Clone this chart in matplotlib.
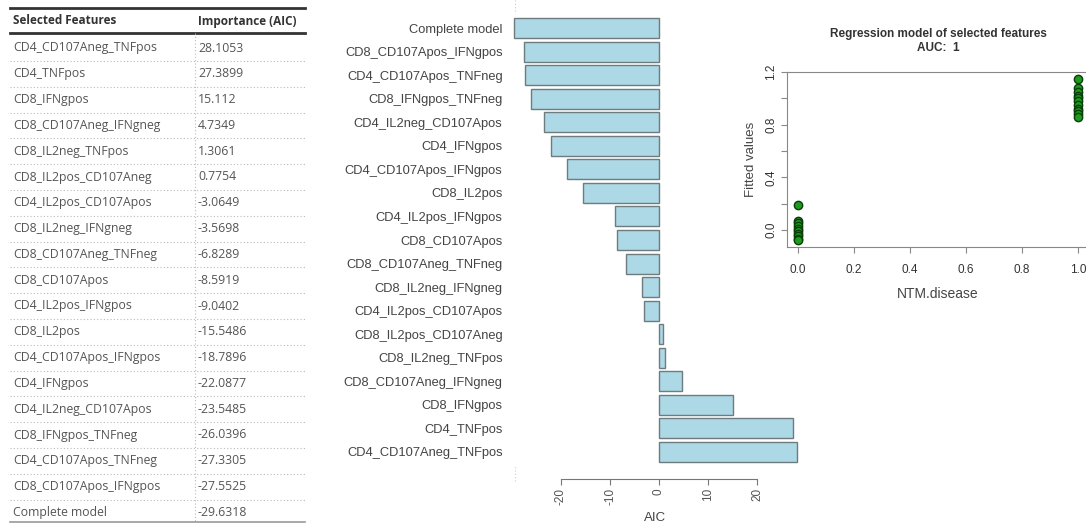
import numpy as np
import matplotlib
matplotlib.use("Agg")
import matplotlib.pyplot as plt

plt.rcParams['font.family'] = ['Liberation Sans', 'DejaVu Sans']

# table / bar data (table order, largest first)
features = ["CD4_CD107Aneg_TNFpos", "CD4_TNFpos", "CD8_IFNgpos",
            "CD8_CD107Aneg_IFNgneg", "CD8_IL2neg_TNFpos", "CD8_IL2pos_CD107Aneg",
            "CD4_IL2pos_CD107Apos", "CD8_IL2neg_IFNgneg", "CD8_CD107Aneg_TNFneg",
            "CD8_CD107Apos", "CD4_IL2pos_IFNgpos", "CD8_IL2pos",
            "CD4_CD107Apos_IFNgpos", "CD4_IFNgpos", "CD4_IL2neg_CD107Apos",
            "CD8_IFNgpos_TNFneg", "CD4_CD107Apos_TNFneg", "CD8_CD107Apos_IFNgpos",
            "Complete model"]
importance = ["28.1053", "27.3899", "15.112", "4.7349", "1.3061", "0.7754",
              "-3.0649", "-3.5698", "-6.8289", "-8.5919", "-9.0402", "-15.5486",
              "-18.7896", "-22.0877", "-23.5485", "-26.0396", "-27.3305",
              "-27.5525", "-29.6318"]
aic = [float(v) for v in importance]
aic_ticks = [-20, -10, 0, 10, 20]

# fitted values of the regression panel
fit_neg = [0.19, 0.07, 0.05, 0.03, 0.01, -0.01, -0.03, -0.05, -0.07, -0.08]
fit_pos = [1.15, 1.08, 1.05, 1.02, 1.0, 0.98, 0.95, 0.92, 0.90, 0.88, 0.86]
x_ticks = [0.0, 0.2, 0.4, 0.6, 0.8, 1.0]
y_ticks = [0.0, 0.2, 0.4, 0.6, 0.8, 1.0, 1.2]

W, H = 1086, 525
fig = plt.figure(figsize=(W / 100, H / 100), dpi=100)


def box(l, t, r, b):
    return [l / W, 1 - b / H, (r - l) / W, (b - t) / H]


# ---- table ----
tab = fig.add_axes([0, 0, 1, 1])
tab.set_xlim(0, W)
tab.set_ylim(H, 0)
tab.axis('off')
tx0, tx1, col2 = 10, 305, 195
row0, pitch = 48, 25.8
tfont = ['Open Sans', 'DejaVu Sans']
tab.plot([tx0, tx1], [8, 8], color='#333333', lw=2)
tab.plot([tx0, tx1], [33, 33], color='#333333', lw=2)
tab.text(13, 21, "Selected Features", fontsize=8.5, fontweight='bold',
         color='#333333', va='center', family=tfont)
tab.text(col2 + 3, 21, "Importance (AIC)", fontsize=8.5, fontweight='bold',
         color='#333333', va='center', family=tfont)
tab.plot([col2, col2], [33, 522], color='#bbbbbb', lw=0.8, ls=(0, (1, 2)))
for i, (f, v) in enumerate(zip(features, importance)):
    y = row0 + i * pitch
    tab.text(13, y, f, fontsize=8.8, color='#555555', va='center', family=tfont)
    tab.text(col2 + 3, y, v, fontsize=8.8, color='#555555', va='center', family=tfont)
    if i < len(features) - 1:
        tab.plot([tx0, tx1], [y + pitch / 2, y + pitch / 2], color='#bbbbbb',
                 lw=0.8, ls=(0, (1, 2)))
tab.plot([tx0, tx1], [522, 522], color='#999999', lw=1.2)
# panel separator
tab.plot([515, 515], [0, 482], color='#cccccc', lw=0.8, ls=(0, (1, 2)))

# ---- bar chart ----
ppu = 4.9
xlo, xhi = -30.5, 29.0
ax = fig.add_axes(box(659 + xlo * ppu, 14, 659 + xhi * ppu, 466))
ypos = np.arange(len(aic))
ax.barh(ypos, aic, height=0.85, color='#add8e6', edgecolor='#6e7b7f', lw=1.0)
ax.set_xlim(xlo, xhi)
ax.set_ylim(-0.6, len(aic) - 0.4)
ax.set_yticks(ypos)
ax.set_yticklabels(features, fontsize=9.3, color='#444444')
ax.tick_params(axis='y', length=0, pad=5)
for s in ['top', 'right', 'left']:
    ax.spines[s].set_visible(False)
ax.spines['bottom'].set_position(('outward', 9))
ax.spines['bottom'].set_bounds(-20, 20)
ax.spines['bottom'].set_color('#777777')
ax.set_xticks(aic_ticks)
ax.set_xticklabels([str(t) for t in aic_ticks], rotation=90, fontsize=8.5,
                   color='#555555')
ax.tick_params(axis='x', length=4, color='#777777', pad=3)
ax.set_xlabel("AIC", fontsize=9.5, color='#444444', labelpad=5)

# ---- regression panel ----
sc = fig.add_axes(box(787, 72, 1089, 247))
sc.scatter(np.zeros(len(fit_neg)), fit_neg, s=36, facecolor='#1e9a1e',
           edgecolor='#0b3d0b', lw=1.0, zorder=3, clip_on=False)
sc.scatter(np.ones(len(fit_pos)), fit_pos, s=36, facecolor='#1e9a1e',
           edgecolor='#0b3d0b', lw=1.0, zorder=3, clip_on=False)
sc.set_xlim(-0.04, 1.04)
sc.set_ylim(-0.13, 1.2)
sc.set_xticks(x_ticks)
sc.set_xticklabels([f"{t:.1f}" for t in x_ticks], fontsize=8.5, color='#333333')
sc.set_yticks(y_ticks)
sc.set_yticklabels([f"{t:.1f}" if i % 2 == 0 else "" for i, t in enumerate(y_ticks)],
                   rotation=90, va='center', fontsize=8.5, color='#333333')
sc.tick_params(length=4, color='#888888')
sc.tick_params(axis='x', pad=8)
sc.tick_params(axis='y', pad=3)
for s in sc.spines.values():
    s.set_color('#888888')
sc.set_xlabel("NTM.disease", fontsize=10, color='#444444', labelpad=8)
sc.set_ylabel("Fitted values", fontsize=9.5, color='#444444', labelpad=6)
sc.set_title("Regression model of selected features\nAUC:  1", fontsize=8.5,
             fontweight='bold', color='#333333', pad=15, linespacing=1.2)

fig.savefig("out.png", dpi=100)
